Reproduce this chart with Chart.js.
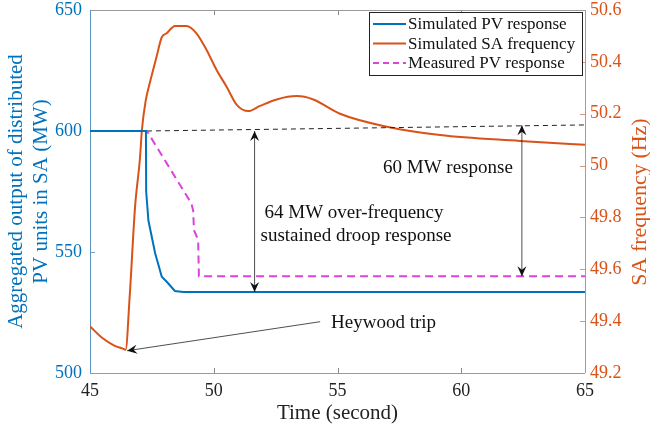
<!DOCTYPE html>
<html>
<head>
<meta charset="utf-8">
<script src="https://cdn.jsdelivr.net/npm/chart.js@4.4.0/dist/chart.umd.min.js"></script>
<style>
  body { margin: 0; background: #fff; }
  #wrap { width: 650px; height: 429px; }
</style>
</head>
<body>
<div id="wrap"><canvas id="chart"></canvas></div>
<script>
// SA frequency (Hz), right axis
const freqTime = [45, 45.5, 46.0, 46.3, 46.44, 46.6, 46.82, 47.02, 47.1, 47.25, 47.42, 47.69, 47.9, 48.1, 48.43, 48.9, 49.3, 49.71, 50.12, 50.52, 50.93, 51.4, 51.87, 52.54, 53.35, 54.02, 55.1, 56.85, 59.14, 62.37, 64.4, 65];
const freqVals = [49.38, 49.335, 49.305, 49.295, 49.29, 49.49, 49.84, 50.03, 50.14, 50.25, 50.32, 50.42, 50.495, 50.51, 50.538, 50.538, 50.51, 50.446, 50.368, 50.304, 50.234, 50.21, 50.23, 50.255, 50.268, 50.255, 50.2, 50.153, 50.118, 50.095, 50.083, 50.08];

// simulated PV output (MW)
const pvTime = [45, 47.26, 47.27, 47.36, 47.63, 47.9, 48.1, 48.43, 48.77, 65];
const pvVals = [600, 600, 575, 563, 549.6, 539.8, 537.7, 533.9, 533.5, 533.5];

// measured PV output (MW)
const measTime = [45, 47.3, 49.1, 49.17, 49.2, 49.37, 49.4, 65];
const measVals = [600, 600, 570, 567, 559, 555, 540, 540];

// pre-event level trend (MW)
const trendTime = [47.3, 65];
const trendVals = [600, 602.5];

const xTicks = [45, 50, 55, 60, 65];
const mwTicks = [500, 550, 600, 650];
const hzTicks = [49.2, 49.4, 49.6, 49.8, 50, 50.2, 50.4, 50.6];

const legendLabels = ['Simulated PV response', 'Simulated SA frequency', 'Measured PV response'];

const BLUE = '#0072BD';
const ORANGE = '#D95319';
const MAGENTA = '#d944d9';
const SERIF = "'Liberation Serif', 'Times New Roman', serif";

function pts(xs, ys) {
    return xs.map((x, i) => ({ x: x, y: ys[i] }));
}

function drawHead(ctx, x, y, ang) {
    ctx.save();
    ctx.translate(x, y);
    ctx.rotate(ang);
    ctx.beginPath();
    ctx.moveTo(0, 0);
    ctx.lineTo(-10, -4.5);
    ctx.lineTo(-6.5, 0);
    ctx.lineTo(-10, 4.5);
    ctx.closePath();
    ctx.fill();
    ctx.restore();
}

function arrow(ctx, x1, y1, x2, y2, both) {
    ctx.beginPath();
    ctx.moveTo(x1, y1);
    ctx.lineTo(x2, y2);
    ctx.stroke();
    const ang = Math.atan2(y2 - y1, x2 - x1);
    drawHead(ctx, x2, y2, ang);
    if (both) drawHead(ctx, x1, y1, ang + Math.PI);
}

function noPad(s) {
    s.paddingTop = 0;
    s.paddingBottom = 0;
    s.paddingLeft = 0;
    s.paddingRight = 0;
}

const overlay = {
    id: 'overlay',
    beforeDatasetsDraw(chart) {
        const ctx = chart.ctx;
        const a = chart.chartArea;
        const sx = chart.scales.x, sy = chart.scales.y, sy2 = chart.scales.y2;
        ctx.save();
        ctx.lineWidth = 1;
        // inner ticks
        ctx.strokeStyle = '#8a8a8a';
        xTicks.slice(1, -1).forEach(v => {
            const px = Math.round(sx.getPixelForValue(v)) + 0.5;
            ctx.beginPath();
            ctx.moveTo(px, a.bottom); ctx.lineTo(px, a.bottom - 5);
            ctx.moveTo(px, a.top); ctx.lineTo(px, a.top + 5);
            ctx.stroke();
        });
        ctx.strokeStyle = '#6fa3cc';
        mwTicks.slice(1, -1).forEach(v => {
            const py = Math.round(sy.getPixelForValue(v)) + 0.5;
            ctx.beginPath();
            ctx.moveTo(a.left, py); ctx.lineTo(a.left + 5, py);
            ctx.stroke();
        });
        ctx.strokeStyle = '#d49a7c';
        hzTicks.slice(1, -1).forEach(v => {
            const py = Math.round(sy2.getPixelForValue(v)) + 0.5;
            ctx.beginPath();
            ctx.moveTo(a.right, py); ctx.lineTo(a.right - 5, py);
            ctx.stroke();
        });
        // box
        ctx.strokeStyle = '#9a9a9a';
        ctx.beginPath();
        ctx.moveTo(a.left, a.top + 0.5); ctx.lineTo(a.right, a.top + 0.5);
        ctx.moveTo(a.left, a.bottom + 0.5); ctx.lineTo(a.right, a.bottom + 0.5);
        ctx.stroke();
        ctx.strokeStyle = '#5b94c2';
        ctx.beginPath();
        ctx.moveTo(a.left + 0.5, a.top); ctx.lineTo(a.left + 0.5, a.bottom);
        ctx.stroke();
        ctx.strokeStyle = '#c9916f';
        ctx.beginPath();
        ctx.moveTo(a.right + 0.5, a.top); ctx.lineTo(a.right + 0.5, a.bottom);
        ctx.stroke();
        ctx.restore();
    },
    afterDatasetsDraw(chart) {
        const ctx = chart.ctx;
        const sx = chart.scales.x, sy = chart.scales.y;
        const X = v => sx.getPixelForValue(v);
        const Y = v => sy.getPixelForValue(v);
        ctx.save();
        ctx.strokeStyle = '#222';
        ctx.fillStyle = '#111';
        ctx.lineWidth = 0.8;
        arrow(ctx, X(51.65), Y(600), X(51.65), Y(533.5), true);
        arrow(ctx, X(62.45), Y(602.4), X(62.45), Y(540), true);
        arrow(ctx, X(54.3), Y(521.2), X(46.5), Y(509.2), false);

        ctx.fillStyle = '#111';
        ctx.font = '19px ' + SERIF;
        ctx.textBaseline = 'middle';
        ctx.textAlign = 'left';
        ctx.fillText('60 MW response', 383, 168);
        ctx.fillText('Heywood trip', 331, 323);
        ctx.textAlign = 'center';
        ctx.fillText('64 MW over-frequency', 354, 213);
        ctx.fillText('sustained droop response', 356, 236);

        // legend
        const lx = 369, ly = 12, lw = 213, lh = 63;
        ctx.fillStyle = '#fff';
        ctx.fillRect(lx, ly, lw, lh);
        ctx.strokeStyle = '#222';
        ctx.lineWidth = 1;
        ctx.strokeRect(lx + 0.5, ly + 0.5, lw, lh);
        const styles = [[BLUE, []], [ORANGE, []], [MAGENTA, [6, 4]]];
        ctx.font = '17px ' + SERIF;
        ctx.textAlign = 'left';
        legendLabels.forEach((t, i) => {
            const yy = ly + 12 + i * 19.5;
            ctx.strokeStyle = styles[i][0];
            ctx.setLineDash(styles[i][1]);
            ctx.lineWidth = 2;
            ctx.beginPath();
            ctx.moveTo(lx + 4, yy); ctx.lineTo(lx + 37, yy);
            ctx.stroke();
            ctx.setLineDash([]);
            ctx.fillStyle = '#111';
            ctx.fillText(t, lx + 39, yy + 1);
        });

        // right axis title, reading upwards
        ctx.save();
        ctx.translate(640, 202);
        ctx.rotate(-Math.PI / 2);
        ctx.fillStyle = ORANGE;
        ctx.font = '22px ' + SERIF;
        ctx.textAlign = 'center';
        ctx.fillText('SA frequency (Hz)', 0, 0);
        ctx.restore();
        ctx.restore();
    }
};

new Chart(document.getElementById('chart'), {
    type: 'line',
    data: {
        datasets: [
            {
                label: legendLabels[0],
                data: pts(pvTime, pvVals),
                borderColor: BLUE,
                borderWidth: 2,
                pointRadius: 0,
                tension: 0,
                yAxisID: 'y'
            },
            {
                label: legendLabels[2],
                data: pts(measTime, measVals),
                borderColor: MAGENTA,
                borderWidth: 2,
                borderDash: [8, 5],
                pointRadius: 0,
                tension: 0,
                yAxisID: 'y'
            },
            {
                label: 'trend',
                data: pts(trendTime, trendVals),
                borderColor: '#222',
                borderWidth: 1,
                borderDash: [5, 4],
                pointRadius: 0,
                yAxisID: 'y'
            },
            {
                label: legendLabels[1],
                data: pts(freqTime, freqVals),
                borderColor: ORANGE,
                borderWidth: 2,
                pointRadius: 0,
                cubicInterpolationMode: 'monotone',
                yAxisID: 'y2'
            }
        ]
    },
    options: {
        responsive: true,
        maintainAspectRatio: false,
        animation: false,
        layout: { padding: { top: 10 } },
        plugins: {
            legend: { display: false },
            tooltip: { enabled: false }
        },
        scales: {
            x: {
                type: 'linear',
                min: 45, max: 65,
                afterBuildTicks: s => { s.ticks = xTicks.map(v => ({ value: v })); },
                afterFit: s => { s.height = 56; noPad(s); },
                grid: { display: false, drawTicks: false },
                border: { display: false },
                ticks: { color: '#222', padding: 7, font: { family: SERIF, size: 18 } },
                title: {
                    display: true,
                    text: 'Time (second)',
                    color: '#222',
                    font: { family: SERIF, size: 21 },
                    padding: { top: 0, bottom: 3 }
                }
            },
            y: {
                position: 'left',
                min: 500, max: 650,
                afterBuildTicks: s => { s.ticks = mwTicks.map(v => ({ value: v })); },
                afterFit: s => { s.width = 90; noPad(s); },
                grid: { display: false, drawTicks: false },
                border: { display: false },
                ticks: { color: BLUE, padding: 8, font: { family: SERIF, size: 18 } },
                title: {
                    display: true,
                    text: ['Aggregated output of distributed', 'PV units in SA (MW)'],
                    color: BLUE,
                    font: { family: SERIF, size: 21 },
                    padding: { top: 4, bottom: 0 }
                }
            },
            y2: {
                position: 'right',
                min: 49.2, max: 50.6,
                afterBuildTicks: s => { s.ticks = hzTicks.map(v => ({ value: v })); },
                afterFit: s => { s.width = 65; noPad(s); },
                grid: { display: false, drawTicks: false },
                border: { display: false },
                ticks: {
                    color: ORANGE, padding: 5,
                    font: { family: SERIF, size: 18 },
                    callback: v => String(+v.toFixed(1))
                }
            }
        }
    },
    plugins: [overlay]
});
</script>
</body>
</html>
